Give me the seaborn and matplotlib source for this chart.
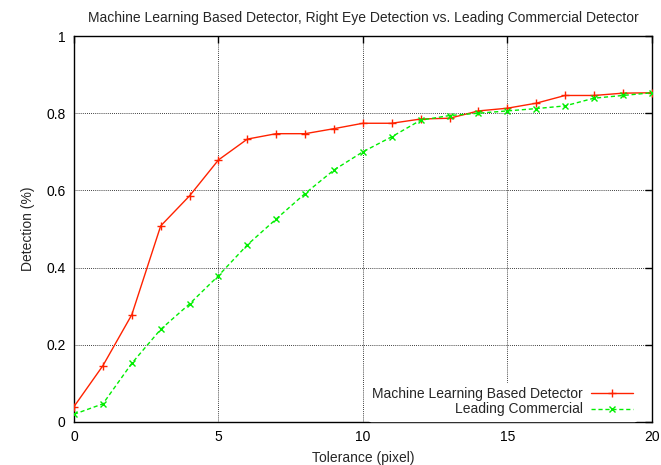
import matplotlib
matplotlib.use("Agg")
import matplotlib.pyplot as plt
import seaborn as sns
import pandas as pd

tolerance = list(range(0, 21))
ml_detector = [0.040, 0.146, 0.278, 0.508, 0.586, 0.679, 0.733, 0.747, 0.747, 0.760,
               0.774, 0.774, 0.785, 0.787, 0.806, 0.813, 0.826, 0.846, 0.846, 0.852, 0.853]
commercial = [0.020, 0.047, 0.152, 0.240, 0.306, 0.379, 0.459, 0.526, 0.592, 0.653,
              0.700, 0.739, 0.782, 0.794, 0.800, 0.806, 0.812, 0.819, 0.839, 0.846, 0.853]
series_names = ["Machine Learning Based Detector", "Leading Commercial"]
x_ticks = [0, 5, 10, 15, 20]
y_ticks = [0, 0.2, 0.4, 0.6, 0.8, 1]
y_tick_labels = ["0", "0.2", "0.4", "0.6", "0.8", "1"]

sns.set_theme(style="white")
plt.rcParams['font.family'] = ['Liberation Sans', 'DejaVu Sans']

df_ml = pd.DataFrame({"Tolerance": tolerance, "Detection": ml_detector})
df_cm = pd.DataFrame({"Tolerance": tolerance, "Detection": commercial})

fig = plt.figure(figsize=(6.61, 4.65), dpi=100)
ax = fig.add_axes([0.112, 0.0925, 0.874, 0.830])

sns.lineplot(data=df_ml, x="Tolerance", y="Detection", color="#ff2200",
             linestyle="-", marker="+", markersize=5.5, markeredgewidth=1.0,
             markeredgecolor="#ff2200", linewidth=1.0, ax=ax, zorder=3,
             label=series_names[0])
sns.lineplot(data=df_cm, x="Tolerance", y="Detection", color="#00ee00",
             linestyle=(0, (3, 2)), marker="x", markersize=5, markeredgewidth=1.0,
             markeredgecolor="#00ee00", linewidth=1.0, ax=ax, zorder=3,
             label=series_names[1])

ax.set_xlim(0, 20)
ax.set_ylim(0, 1)
ax.set_xticks(x_ticks)
ax.set_xticklabels([str(t) for t in x_ticks])
ax.set_yticks(y_ticks)
ax.set_yticklabels(y_tick_labels)

for s in ax.spines.values():
    s.set_visible(True)
    s.set_color("black")
    s.set_linewidth(1.0)

ax.tick_params(axis="both", direction="in", length=5, width=1, color="black",
               top=True, right=True, labelsize=10, pad=6, labelcolor="black")

# dotted grid at interior ticks only
for xv in x_ticks[1:-1]:
    ax.axvline(xv, color="black", linestyle=(0, (1, 1.5)), linewidth=0.6, zorder=1)
for yv in y_ticks[1:-1]:
    ax.axhline(yv, color="black", linestyle=(0, (1, 1.5)), linewidth=0.6, zorder=1)

ax.set_title("Machine Learning Based Detector, Right Eye Detection vs. Leading Commercial Detector",
             fontsize=10, pad=10)
ax.set_xlabel("Tolerance (pixel)", fontsize=10, labelpad=5)
ax.set_ylabel("Detection (%)", fontsize=10, labelpad=8)

handles, labels = ax.get_legend_handles_labels()
leg = ax.legend(handles, labels, loc="lower right", markerfirst=False, frameon=True,
                fontsize=10, handlelength=3.0, handletextpad=0.6, labelspacing=0.1,
                borderaxespad=0.1, borderpad=0.3, bbox_to_anchor=(0.977, 0.0))
leg.get_frame().set_edgecolor("white")
leg.get_frame().set_facecolor("white")
leg.get_frame().set_alpha(1.0)
leg.set_zorder(5)

fig.savefig("out.png", dpi=100)
